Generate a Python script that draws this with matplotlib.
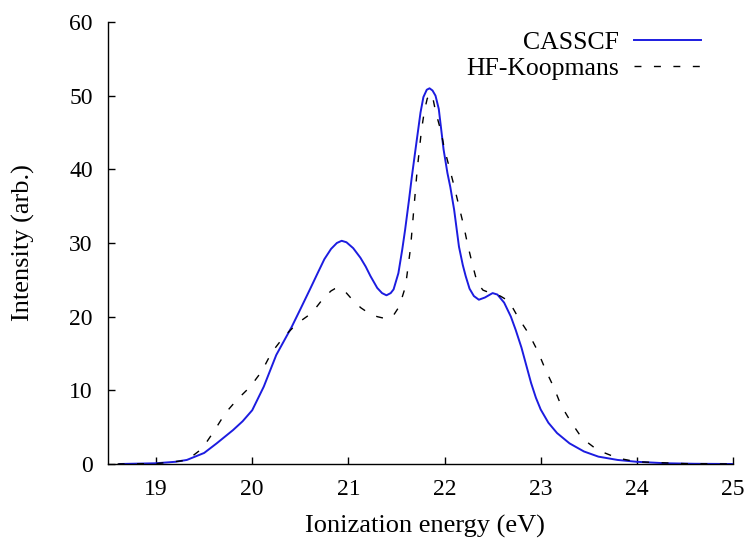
import matplotlib
matplotlib.use('Agg')
import matplotlib.pyplot as plt
import numpy as np

plt.rcParams['font.family'] = ['Liberation Serif', 'DejaVu Serif']

# CASSCF spectrum
cas_energy = [18.62, 19.0, 19.2, 19.32, 19.5, 19.63, 19.8, 19.9, 20.0, 20.12,
              20.25, 20.41, 20.5, 20.6, 20.68, 20.75, 20.82, 20.88, 20.93, 20.98,
              21.05, 21.125, 21.18, 21.23, 21.30, 21.35, 21.396, 21.44, 21.47, 21.52,
              21.56, 21.59, 21.63, 21.66, 21.698, 21.75, 21.78, 21.815, 21.844, 21.875,
              21.906, 21.94, 21.99, 22.03, 22.06, 22.1, 22.15, 22.19, 22.22, 22.26,
              22.305, 22.357, 22.42, 22.5, 22.55, 22.62, 22.69, 22.74, 22.8, 22.9,
              22.95, 23.0, 23.08, 23.17, 23.3, 23.45, 23.6, 23.8, 24.0, 24.3,
              24.6, 25.0]
cas_intensity = [0.0, 0.1, 0.3, 0.55, 1.5, 2.8, 4.6, 5.8, 7.3, 10.5,
                 14.8, 18.6, 21.0, 23.7, 25.9, 27.8, 29.2, 30.0, 30.3, 30.1,
                 29.3, 28.0, 26.8, 25.5, 23.9, 23.2, 22.9, 23.2, 23.7, 25.9,
                 29.1, 31.8, 35.8, 39.0, 42.7, 47.7, 49.8, 50.8, 51.0, 50.7,
                 50.0, 48.2, 42.7, 39.5, 37.6, 34.5, 29.5, 27.0, 25.5, 23.8,
                 22.8, 22.3, 22.6, 23.2, 23.0, 21.9, 20.0, 18.2, 15.8, 11.0,
                 9.0, 7.4, 5.6, 4.2, 2.8, 1.7, 1.0, 0.55, 0.3, 0.1,
                 0.03, 0.0]

# HF-Koopmans spectrum
hf_energy = [18.6, 19.0, 19.32, 19.48, 19.6, 19.72, 19.84, 19.98, 20.1, 20.2,
             20.33, 20.47, 20.62, 20.74, 20.82, 20.86, 20.9, 20.96, 21.055, 21.13,
             21.21, 21.3, 21.4, 21.47, 21.53, 21.594, 21.646, 21.68, 21.716, 21.76,
             21.79, 21.82, 21.85, 21.88, 21.906, 21.96, 22.0, 22.055, 22.1, 22.15,
             22.2, 22.24, 22.29, 22.34, 22.4, 22.5, 22.58, 22.67, 22.77, 22.88,
             22.97, 23.05, 23.14, 23.21, 23.31, 23.43, 23.59, 23.8, 24.0, 24.5,
             25.0]
hf_intensity = [0.0, 0.05, 0.5, 2.1, 4.4, 6.9, 8.7, 10.5, 12.6, 15.1,
                17.3, 19.1, 20.5, 22.5, 23.5, 23.8, 23.9, 23.5, 22.1, 21.2,
                20.5, 20.0, 19.7, 20.2, 21.4, 24.1, 29.3, 34.5, 40.0, 45.3,
                47.9, 49.6, 50.3, 49.6, 47.9, 45.3, 42.7, 40.0, 37.7, 35.0,
                32.3, 29.8, 27.1, 24.6, 23.6, 23.1, 22.8, 22.1, 19.8, 17.6,
                15.3, 12.8, 10.3, 8.0, 5.8, 3.5, 1.9, 0.8, 0.3, 0.05,
                0.0]

xticks = [19, 20, 21, 22, 23, 24, 25]
yticks = [0, 10, 20, 30, 40, 50, 60]

W, H = 749, 538
fig = plt.figure(figsize=(W / 100, H / 100), dpi=100)
ax = fig.add_axes([108 / W, 1 - 464 / H, 625 / W, 442 / H])

ax.plot(cas_energy, cas_intensity, color='#1c1ce0', lw=1.4, label='CASSCF')
ax.plot(hf_energy, hf_intensity, color='black', lw=1.0, dashes=(5, 9), label='HF-Koopmans')

ax.set_xlim(18.5, 25)
ax.set_ylim(0, 60)
ax.set_xticks(xticks)
ax.set_yticks(yticks)

ax.spines['top'].set_visible(False)
ax.spines['right'].set_visible(False)
for s in ['left', 'bottom']:
    ax.spines[s].set_linewidth(1.0)
ax.tick_params(direction='in', length=5, width=1.0, labelsize=17)
ax.tick_params(axis='y', pad=11)
ax.tick_params(axis='x', pad=11)

# axis titles
fig.text(425 / W, 1 - 533 / H, 'Ionization energy (eV)', fontsize=19,
         ha='center', va='baseline')
fig.text(23 / W, 1 - 243 / H, 'Intensity (arb.)', fontsize=19,
         rotation=90, ha='center', va='center')

ax.legend(loc='upper right', bbox_to_anchor=(0.965, 1.002), frameon=False,
          markerfirst=False, fontsize=18.5, handlelength=2.6, handletextpad=0.6,
          labelspacing=0.12, borderaxespad=0.0)

fig.savefig('out.png', dpi=100)
